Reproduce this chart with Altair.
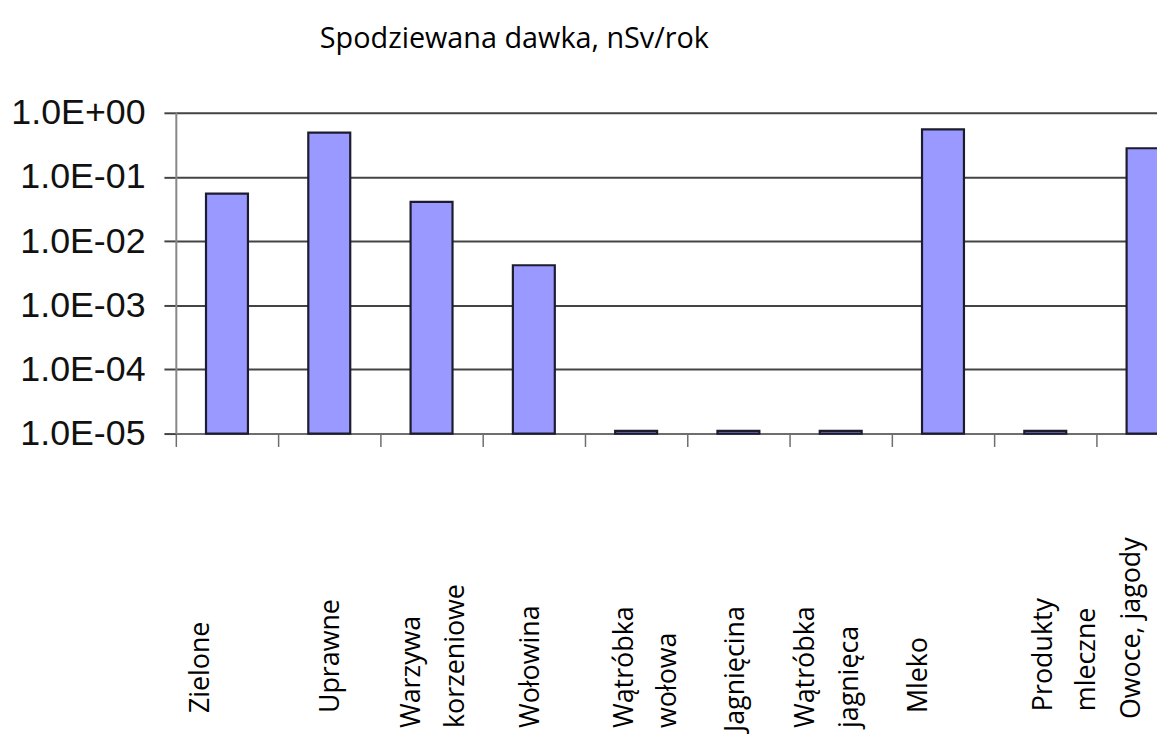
import altair as alt
import pandas as pd

# ---- data ----
categories = [
    "Zielone",
    "Uprawne",
    "Warzywa|korzeniowe",
    "Wołowina",
    "Wątróbka|wołowa",
    "Jagnięcina",
    "Wątróbka|jagnięca",
    "Mleko",
    "Produkty|mleczne",
    "Owoce, jagody",
]
dose = [0.055, 0.49, 0.041, 0.0042, 1.1e-5, 1.1e-5, 1.1e-5, 0.55, 1.1e-5, 0.28]
y_ticks = [1e-5, 1e-4, 1e-3, 1e-2, 1e-1, 1e0]
y_min = 1e-5

# ---- layout tweaks for the rotated category labels (pixels) ----
label_shift = [-27, 1, -20, -3, -12, -3, -35, -25, -2, -16]
label_pad = [268, 268, 283, 283, 283, 287, 283, 268, 266, 274]

df = pd.DataFrame({"cat": categories, "dose": dose})

cat_list = "[" + ",".join("'" + c + "'" for c in categories) + "]"
shift_expr = "[" + ",".join(str(v) for v in label_shift) + "][indexof(" + cat_list + ", datum.value)]"
pad_expr = "[" + ",".join(str(v) for v in label_pad) + "][indexof(" + cat_list + ", datum.value)]"

y_label_expr = (
    "'1.0E' + (round(log(datum.value)/LN10) >= 0 ? '+' : '-') + '0' + "
    "abs(round(log(datum.value)/LN10))"
)

bars = (
    alt.Chart(df)
    .mark_bar(
        width=alt.RelativeBandSize(0.41),
        fill="#9999FF",
        stroke="#1c1c2e",
        strokeWidth=2.2,
    )
    .encode(
        x=alt.X(
            "cat:N",
            sort=None,
            scale=alt.Scale(range=[0, 1030], paddingInner=0, paddingOuter=0),
            axis=alt.Axis(
                title=None,
                labelExpr="split(datum.label, '|')",
                labelAngle=-90,
                labelAlign="left",
                labelBaseline="middle",
                labelFont="Open Sans",
                labelFontSize=27,
                labelColor="#000000",
                labelLineHeight=44,
                labelOffset=alt.ExprRef(shift_expr),
                labelPadding=alt.ExprRef(pad_expr),
                labelOverlap=False,
                labelBound=False,
                labelLimit=400,
                tickBand="extent",
                tickSize=13,
                tickColor="#6e6e6e",
                tickWidth=1.5,
                domainColor="#6e6e6e",
                domainWidth=2,
                grid=False,
            ),
        ),
        y=alt.Y(
            "dose:Q",
            scale=alt.Scale(type="log", domain=[1e-5, 1], nice=False),
            axis=alt.Axis(
                title=None,
                values=y_ticks,
                labelExpr=y_label_expr,
                labelFont="Liberation Sans",
                labelFontSize=36,
                labelColor="#111111",
                labelPadding=19,
                tickSize=12,
                tickColor="#444444",
                tickWidth=2,
                domainColor="#888888",
                domainWidth=2,
                grid=True,
                gridColor="#444444",
                gridWidth=2,
            ),
        ),
        y2=alt.datum(y_min),
    )
    .properties(
        width=988,
        height=323,
        title=alt.TitleParams(
            "Spodziewana dawka, nSv/rok",
            font="Open Sans",
            fontSize=29,
            fontWeight="normal",
            color="#000000",
            anchor="start",
            frame="group",
            dx=145,
            offset=41,
        ),
        autosize=alt.AutoSizeParams(type="none"),
        padding={"left": 169, "top": 103, "right": 0, "bottom": 300},
    )
    .configure_view(stroke=None)
    .configure(background="#ffffff")
)

chart = bars
chart.save("out.html", embed_options={"renderer": "svg", "actions": False})
